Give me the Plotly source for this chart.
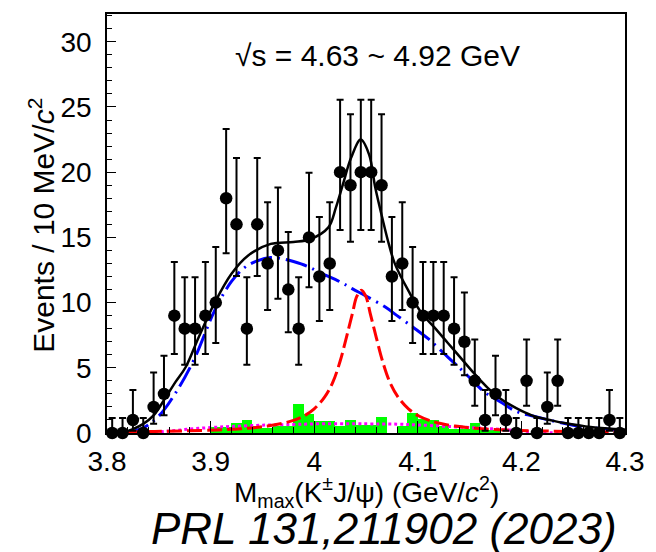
import plotly.graph_objects as go

# ---- data: M_max(K J/psi) spectrum, 10 MeV bins from 3.80 to 4.30 GeV ----
bin_centers = [round(3.805 + 0.01 * i, 3) for i in range(50)]
counts = [0, 0, 1, 0, 2, 3, 9, 8, 8, 9,
          10, 18, 16, 8, 16, 13, 14, 11, 8, 15,
          12, 13, 20, 19, 20, 20, 19, 12, 13, 10,
          9, 9, 9, 8, 7, 4, 1, 3, 1, 0,
          4, 0, 2, 4, 0, 0, 0, 0, 1, 0]

# 68.27% Poisson intervals (lower, upper) per observed count
poisson_68 = {0: (0.0, 1.148), 1: (0.827, 2.299), 2: (1.292, 2.637),
              3: (1.633, 2.918), 4: (1.914, 3.162), 5: (2.159, 3.382),
              6: (2.380, 3.583), 7: (2.581, 3.770), 8: (2.768, 3.944),
              9: (2.943, 4.110), 10: (3.108, 4.266), 11: (3.265, 4.416),
              12: (3.415, 4.559), 13: (3.559, 4.697), 14: (3.697, 4.830),
              15: (3.831, 4.958), 16: (3.961, 5.083), 17: (4.086, 5.204),
              18: (4.208, 5.321), 19: (4.326, 5.435), 20: (4.442, 5.546)}
err_lo = [poisson_68[n][0] for n in counts]
err_hi = [poisson_68[n][1] for n in counts]

# sideband (normalised) background histogram
sideband = [0, 0, 0, 0, 0, 0, 0, 0, 0, 0,
            0.48, 0.48, 0.74, 1.0, 0.5, 0.35, 0.5, 0.5, 2.24, 1.45,
            0.95, 0.95, 0.55, 1.0, 0.6, 0.6, 1.25, 0.0, 0.5, 1.5,
            1.05, 1.0, 0.5, 0.3, 0.3, 0.74, 0.25, 0.2, 0, 0,
            0, 0, 0, 0, 0, 0, 0, 0, 0, 0]

# total fit
fit_x = [3.800, 3.815, 3.825, 3.835, 3.845, 3.857, 3.866, 3.876, 3.8885, 3.904,
         3.920, 3.936, 3.958, 3.980, 3.996, 4.0135, 4.021, 4.0277, 4.0356, 4.045,
         4.053, 4.059, 4.0657, 4.072, 4.078, 4.091, 4.1036, 4.116, 4.129, 4.141,
         4.154, 4.167, 4.1795, 4.195, 4.210, 4.230, 4.243, 4.262, 4.290, 4.300]
fit_y = [0.0, 0.05, 0.3, 0.7, 1.35, 2.77, 3.9, 5.06, 7.35, 10.0,
         12.2, 13.6, 14.5, 14.65, 14.86, 15.75, 17.3, 19.06, 21.1, 22.5,
         21.35, 18.8, 16.5, 14.5, 12.95, 10.9, 9.2, 8.1, 6.9, 5.8,
         4.6, 3.5, 2.65, 1.9, 1.35, 0.95, 0.74, 0.5, 0.3, 0.25]

# non-resonant background component
bkg_x = [3.820, 3.835, 3.850, 3.8695, 3.885, 3.904, 3.920, 3.933, 3.945, 3.958,
         3.970, 3.980, 3.993, 4.0055, 4.026, 4.037, 4.050, 4.069, 4.080, 4.0973,
         4.110, 4.129, 4.146, 4.165, 4.1795, 4.195, 4.211, 4.227, 4.250, 4.275, 4.300]
bkg_y = [0.05, 0.4, 1.3, 3.5, 5.8, 9.4, 11.6, 12.7, 13.2, 13.45,
         13.35, 13.15, 12.8, 12.3, 11.55, 11.05, 10.5, 9.64, 9.0, 8.0,
         7.23, 5.82, 4.56, 3.1, 2.4, 1.65, 1.3, 0.99, 0.6, 0.35, 0.2]

# signal component
sig_x = [3.800, 3.846, 3.906, 3.9355, 3.955, 3.970, 3.980, 3.990, 4.000, 4.010,
         4.018, 4.025, 4.031, 4.037, 4.041, 4.0455, 4.050, 4.054, 4.060, 4.066,
         4.073, 4.081, 4.091, 4.101, 4.111, 4.121, 4.136, 4.1555, 4.1855, 4.2455, 4.300]
sig_y = [0.05, 0.12, 0.23, 0.36, 0.53, 0.75, 0.97, 1.3, 1.85, 2.75,
         3.9, 5.5, 7.3, 9.2, 10.45, 10.95, 10.45, 9.2, 7.3, 5.5,
         3.9, 2.75, 1.85, 1.3, 0.97, 0.75, 0.53, 0.36, 0.23, 0.12, 0.06]

# sideband shape
sb_x = [3.840, 3.860, 3.880, 3.900, 3.920, 3.950, 3.980, 4.000, 4.050, 4.080,
        4.100, 4.130, 4.160, 4.180, 4.200, 4.220, 4.240]
sb_y = [0.0, 0.15, 0.3, 0.42, 0.5, 0.6, 0.65, 0.7, 0.7, 0.68,
        0.62, 0.5, 0.38, 0.28, 0.15, 0.05, 0.0]

x_ticks = [3.8, 3.9, 4.0, 4.1, 4.2, 4.3]
x_ticktext = ["3.8", "3.9", "4", "4.1", "4.2", "4.3"]
y_ticks = [0, 5, 10, 15, 20, 25, 30]

FONT = "Liberation Sans, Arial, Helvetica, sans-serif"

fig = go.Figure()

fig.add_trace(go.Bar(x=bin_centers, y=sideband, width=0.01,
                     marker=dict(color="#00ff00", line=dict(width=0)),
                     showlegend=False))

fig.add_trace(go.Scatter(x=sb_x, y=sb_y, mode="lines", line_shape="spline",
                         line=dict(color="#ff00ff", width=3, dash="dot"),
                         showlegend=False))

fig.add_trace(go.Scatter(x=bkg_x, y=bkg_y, mode="lines", line_shape="spline",
                         line=dict(color="#0000ff", width=3, dash="22px,6px,2px,6px"),
                         showlegend=False))

fig.add_trace(go.Scatter(x=sig_x, y=sig_y, mode="lines", line_shape="spline",
                         line=dict(color="#ff0000", width=3, dash="15px,5px"),
                         showlegend=False))

fig.add_trace(go.Scatter(x=fit_x, y=fit_y, mode="lines", line_shape="spline",
                         line=dict(color="black", width=2.5),
                         showlegend=False))

fig.add_trace(go.Scatter(x=bin_centers, y=counts, mode="markers",
                         marker=dict(color="black", size=12.5, symbol="circle"),
                         error_y=dict(type="data", symmetric=False,
                                      array=err_hi, arrayminus=err_lo,
                                      color="black", thickness=2, width=3.5),
                         cliponaxis=False, showlegend=False))

fig.update_layout(
    width=656, height=552,
    margin=dict(l=107, r=22, t=13, b=119),
    paper_bgcolor="white", plot_bgcolor="white",
    bargap=0,
    font=dict(family=FONT, color="black"),
    xaxis=dict(range=[3.8, 4.3], tickvals=x_ticks, ticktext=x_ticktext,
               ticks="inside", ticklen=12, tickwidth=1.2, tickcolor="black",
               minor=dict(dtick=0.02, ticks="inside", ticklen=6, tickwidth=1.2,
                          tickcolor="black", showgrid=False),
               showline=True, linecolor="black", linewidth=1.5, mirror=True,
               showgrid=False, zeroline=False,
               tickfont=dict(size=28, family=FONT), ticklabelstandoff=3),
    yaxis=dict(range=[0, 32.13], tickvals=y_ticks,
               ticks="inside", ticklen=9, tickwidth=1.2, tickcolor="black",
               minor=dict(dtick=1, ticks="inside", ticklen=5, tickwidth=1.2,
                          tickcolor="black", showgrid=False),
               showline=True, linecolor="black", linewidth=1.5, mirror=True,
               showgrid=False, zeroline=False,
               tickfont=dict(size=28, family=FONT), ticklabelstandoff=8),
)

fig.add_annotation(text="Events / 10 MeV/<i>c</i><sup>2</sup>",
                   xref="paper", yref="paper", x=-0.127, y=0.495,
                   textangle=-90, showarrow=False,
                   xanchor="center", yanchor="middle",
                   font=dict(size=30, family=FONT))
fig.add_annotation(text="M<sub>max</sub>(K<sup>±</sup>J/ψ) (GeV/<i>c</i><sup>2</sup>)",
                   xref="paper", yref="paper", x=0.5, y=-0.14,
                   showarrow=False, xanchor="center", yanchor="middle",
                   font=dict(size=28, family=FONT))
fig.add_annotation(text="√s = 4.63 ~ 4.92 GeV",
                   xref="paper", yref="paper", x=0.522, y=0.9,
                   showarrow=False, xanchor="center", yanchor="middle",
                   font=dict(size=30, family=FONT))
fig.add_annotation(text="<i>PRL 131,211902 (2023)</i>",
                   xref="paper", yref="paper", x=0.534, y=-0.228,
                   showarrow=False, xanchor="center", yanchor="middle",
                   font=dict(size=44, family=FONT))

fig.write_html("out.html")
